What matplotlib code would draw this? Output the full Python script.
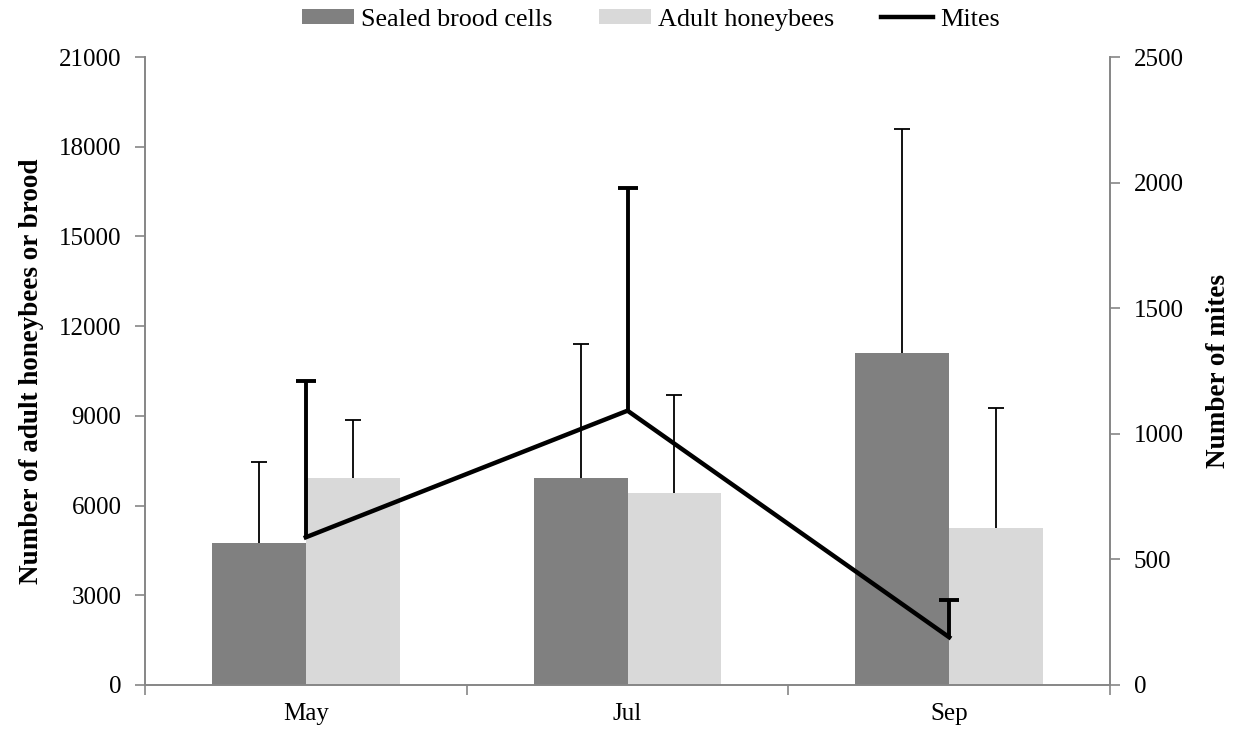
import numpy as np
import matplotlib.pyplot as plt

plt.rcParams["font.family"] = ["Liberation Serif", "DejaVu Serif"]

months = ["May", "Jul", "Sep"]
brood = [4750, 6920, 11100]
brood_err = [2700, 4480, 7500]
adults = [6920, 6420, 5250]
adults_err = [1940, 3280, 4010]
mites = [588, 1092, 190]
mites_err = [622, 886, 148]

axis_grey = "#868686"
x = np.arange(len(months))
w = 0.292
fs = 18

fig, ax = plt.subplots(figsize=(12.35, 7.34), dpi=100)
fig.subplots_adjust(left=0.1174, right=0.8988, top=0.9223, bottom=0.0668)

ax.bar(x - w / 2, brood, w, color="#808080", label="Sealed brood cells")
ax.bar(x + w / 2, adults, w, color="#d9d9d9", label="Adult honeybees")

# upper error bars only, cap on top
for xs, vals, errs in [(x - w / 2, brood, brood_err), (x + w / 2, adults, adults_err)]:
    tops = np.array(vals) + np.array(errs)
    ax.vlines(xs, vals, tops, color="black", linewidth=1.3)
    ax.plot(xs, tops, linestyle="none", marker="_", markersize=12, markeredgewidth=1.3, color="black")

ax.set_xlim(-0.5, 2.5)
ax.set_ylim(0, 21000)
ax.set_yticks(np.arange(0, 21001, 3000))
ax.set_xticks(x)
ax.set_xticklabels(months)
ax.set_xticks([-0.5, 0.5, 1.5, 2.5], minor=True)
ax.tick_params(axis="x", which="major", length=0, pad=13, labelsize=fs)
ax.tick_params(axis="x", which="minor", length=7, color=axis_grey, width=1.2)
ax.tick_params(axis="y", length=7, color=axis_grey, width=1.2, labelsize=fs, pad=10)
ax.set_ylabel("Number of adult honeybees or brood", fontsize=19.5, fontweight="bold", labelpad=11)

ax2 = ax.twinx()
ax2.plot(x, mites, color="black", linewidth=3.2, label="Mites")
mite_tops = np.array(mites) + np.array(mites_err)
ax2.vlines(x, mites, mite_tops, color="black", linewidth=2.8)
ax2.plot(x, mite_tops, linestyle="none", marker="_", markersize=14, markeredgewidth=2.8, color="black")
ax2.set_ylim(0, 2500)
ax2.set_yticks(np.arange(0, 2501, 500))
ax2.tick_params(axis="y", length=7, color=axis_grey, width=1.2, labelsize=fs, pad=10)
ax2.set_ylabel("Number of mites", fontsize=19.5, fontweight="bold", labelpad=16)

for a in (ax, ax2):
    a.spines["top"].set_visible(False)
    for s in ("left", "right", "bottom"):
        a.spines[s].set_color(axis_grey)
        a.spines[s].set_linewidth(1.2)

h1, l1 = ax.get_legend_handles_labels()
h2, l2 = ax2.get_legend_handles_labels()
fig.legend(h1 + h2, l1 + l2, loc="upper center", ncol=3, frameon=False,
           fontsize=18.8, bbox_to_anchor=(0.527, 1.02), handlelength=2.0, handleheight=0.5,
           handletextpad=0.25, columnspacing=1.8)

fig.savefig("out.png", dpi=100)
